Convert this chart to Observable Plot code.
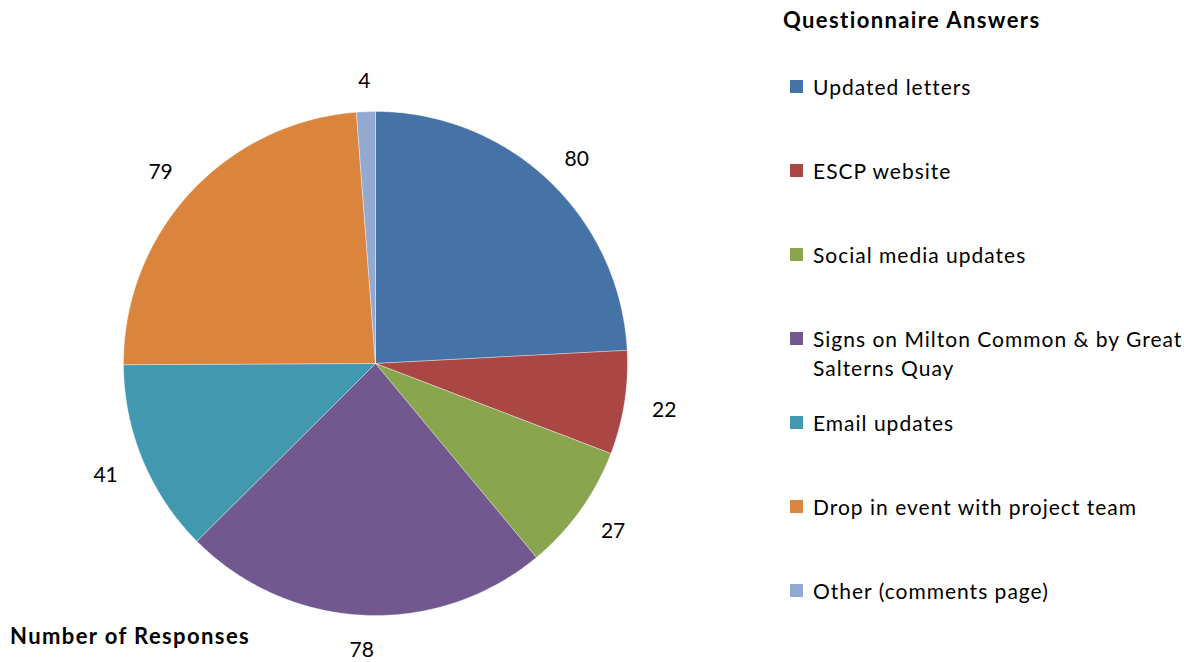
<!DOCTYPE html>
<html>
<head>
<meta charset="utf-8">
<script src="https://cdn.jsdelivr.net/npm/d3@7"></script>
<script src="https://cdn.jsdelivr.net/npm/@observablehq/plot@0.6"></script>
<style>
  html, body { margin: 0; padding: 0; background: #fff; }
  #wrap { position: relative; width: 1184px; height: 662px; font-family: Lato, "Open Sans", sans-serif; color: #000; overflow: hidden; }
  #chart { position: absolute; left: 0; top: 0; }
  .title { position: absolute; font-weight: bold; font-size: 22px; line-height: 28px; letter-spacing: 1.4px; white-space: nowrap; }
  .item { position: absolute; left: 790px; font-size: 21px; line-height: 29px; letter-spacing: 1px; display: flex; align-items: flex-start; white-space: nowrap; }
  .sw { width: 13px; height: 13px; margin-top: 8px; margin-right: 10px; flex: none; }
</style>
</head>
<body>
<div id="wrap">
  <div id="chart"></div>
  <div class="title" style="left:783px; top:6px;">Questionnaire Answers</div>
  <div class="title" style="left:10px; top:622px;">Number of Responses</div>
  <div id="legend"></div>
</div>
<script>
const categories = [
  "Updated letters",
  "ESCP website",
  "Social media updates",
  "Signs on Milton Common & by Great Salterns Quay",
  "Email updates",
  "Drop in event with project team",
  "Other (comments page)"
];
const legendLabels = [
  "Updated letters",
  "ESCP website",
  "Social media updates",
  "Signs on Milton Common &amp; by Great<br>Salterns Quay",
  "Email updates",
  "Drop in event with project team",
  "Other (comments page)"
];
const values = [80, 22, 27, 78, 41, 79, 4];
const colors = ["#4572A7", "#AA4643", "#89A54E", "#71588F", "#4198AF", "#DB843D", "#93A9CF"];

const data = categories.map((c, i) => ({category: c, value: values[i]}));
const pie = d3.pie().sort(null).value(d => d.value)(data);

// polygon points for each slice (angles clockwise from top)
const pts = [];
for (const s of pie) {
  const c = s.data.category;
  pts.push({category: c, x: 0, y: 0});
  const n = Math.max(2, Math.ceil((s.endAngle - s.startAngle) / (Math.PI / 360)));
  for (let k = 0; k <= n; k++) {
    const a = s.startAngle + (s.endAngle - s.startAngle) * k / n;
    pts.push({category: c, x: Math.sin(a), y: Math.cos(a)});
  }
  pts.push({category: c, x: 0, y: 0});
}
const labels = pie.map(s => {
  const a = (s.startAngle + s.endAngle) / 2;
  return {x: 1.16 * Math.sin(a), y: 1.13 * Math.cos(a), text: String(s.data.value)};
});

const cx = 375, cy = 363, r = 252;
const chart = Plot.plot({
  width: 760,
  height: 662,
  x: {domain: [-1, 1], range: [cx - r, cx + r], axis: null},
  y: {domain: [-1, 1], range: [cy + r, cy - r], axis: null},
  color: {domain: categories, range: colors},
  style: {fontFamily: "Lato, 'Open Sans', sans-serif", background: "transparent"},
  marks: [
    Plot.line(pts, {x: "x", y: "y", z: "category", fill: "category", stroke: "#ffffff", strokeWidth: 0.6, strokeOpacity: 0.6, curve: "linear-closed"}),
    Plot.text(labels, {x: "x", y: "y", text: "text", fontSize: 21, dy: 2, fill: "#000", style: "letter-spacing:1px"})
  ]
});
document.getElementById("chart").appendChild(chart);

const legend = document.getElementById("legend");
categories.forEach((c, i) => {
  const div = document.createElement("div");
  div.className = "item";
  div.style.top = (87 + 84 * i - 15) + "px";
  div.innerHTML = `<span class="sw" style="background:${colors[i]}"></span><span>${legendLabels[i]}</span>`;
  legend.appendChild(div);
});
</script>
</body>
</html>
